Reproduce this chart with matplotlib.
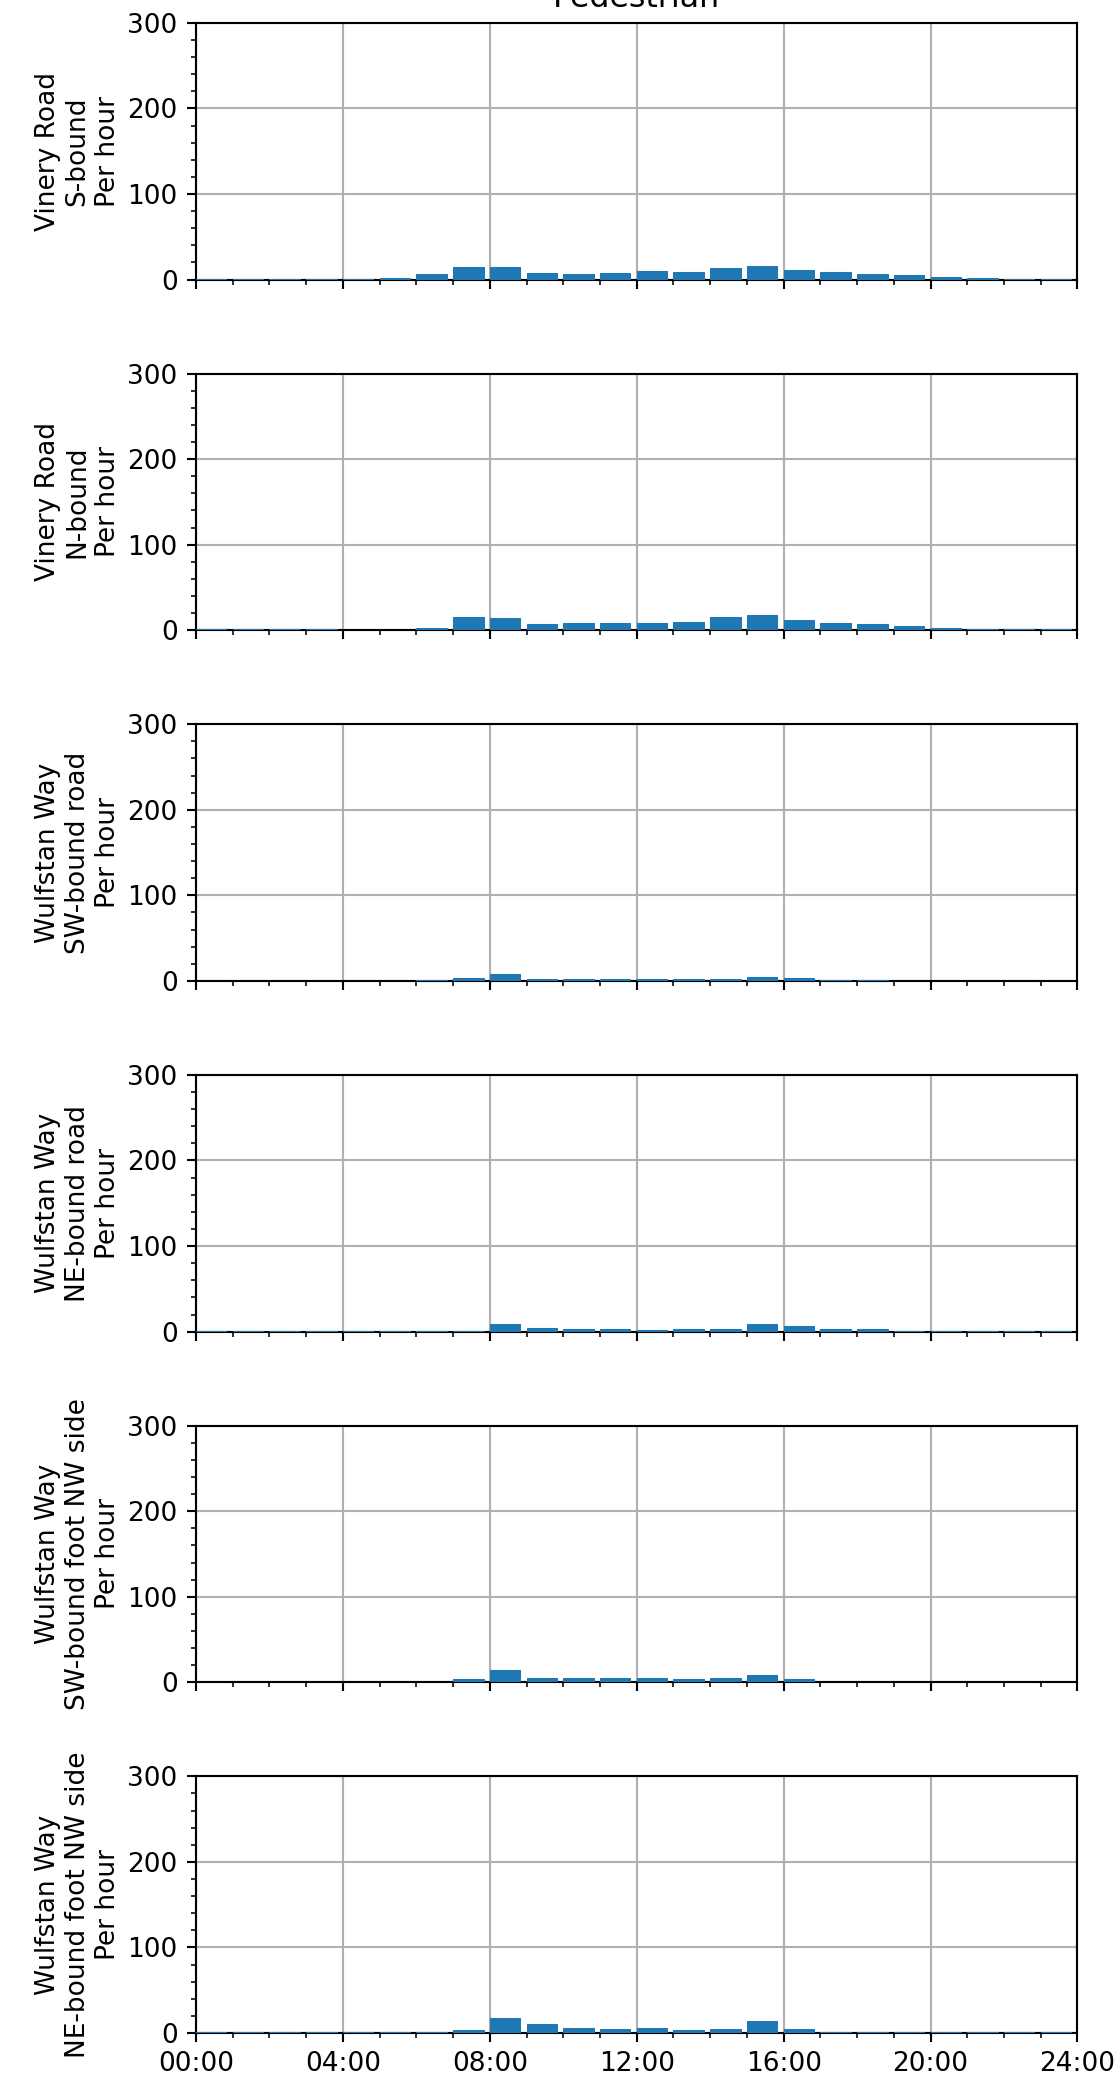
import numpy as np
import matplotlib.pyplot as plt
from matplotlib.ticker import MultipleLocator, FixedLocator


hours = np.arange(24)

labels = [
    "Vinery Road\nS-bound\nPer hour",
    "Vinery Road\nN-bound\nPer hour",
    "Wulfstan Way\nSW-bound road\nPer hour",
    "Wulfstan Way\nNE-bound road\nPer hour",
    "Wulfstan Way\nSW-bound foot NW side\nPer hour",
    "Wulfstan Way\nNE-bound foot NW side\nPer hour",
]

vinery_s = [1, 1, 1, 1, 1, 2, 7, 15, 15, 8, 7, 8, 10.5, 9, 13.5, 16, 11.5, 9, 6, 5, 3.5, 2, 1, 1]
vinery_n = [1, 1, 1, 1, 0.5, 0.5, 3, 16, 14, 7, 8, 8, 9, 10, 16, 18, 12.5, 8, 7, 5.5, 3, 2, 1, 1]
wulf_sw_road = [0.3, 0.3, 0.3, 0.3, 0.3, 0.3, 1, 3.5, 8.5, 2.5, 2.5, 2.5, 2.5, 2.5, 2.5, 5, 3.5, 1, 1, 0.5, 0.3, 0.3, 0.3, 0.3]
wulf_ne_road = [0.3, 0.3, 0.3, 0.3, 0.3, 0.3, 0.3, 1, 9, 4, 2.5, 2.5, 1.5, 2.5, 2.5, 9, 6.5, 2.5, 2.5, 1, 0.3, 0.3, 0.3, 0.3]
wulf_sw_foot = [0.3, 0.3, 0.3, 0.3, 0.3, 0.3, 0.3, 3.5, 14, 4.5, 4.5, 4.5, 4.5, 3.5, 4.5, 9, 3.5, 0.5, 0.3, 0.3, 0.3, 0.3, 0.3, 0.3]
wulf_ne_foot = [1, 1, 1, 1, 1, 1, 1, 3, 18, 10, 6, 5, 6, 3.5, 5, 14.5, 5, 1, 1, 1, 1, 1, 1, 1]

series = [vinery_s, vinery_n, wulf_sw_road, wulf_ne_road, wulf_sw_foot, wulf_ne_foot]

x_ticks = [0, 4, 8, 12, 16, 20, 24]
x_ticklabels = ["00:00", "04:00", "08:00", "12:00", "16:00", "20:00", "24:00"]

DPI = 190


def plot_panel(ax, values, ylabel):
    """Hourly bar chart for one counter"""
    # bars sit on top of the bottom spine so the near-zero hours still show
    ax.bar(hours, values, width=0.83, align="edge", color="#1f77b4",
           edgecolor="#1f77b4", linewidth=0.4, zorder=3)
    ax.set_xlim(0, 24)
    ax.set_ylim(0, 300)
    ax.set_yticks([0, 100, 200, 300])
    ax.yaxis.set_minor_locator(MultipleLocator(20))
    ax.xaxis.set_major_locator(FixedLocator(x_ticks))
    ax.xaxis.set_minor_locator(MultipleLocator(1))
    ax.grid(True, which="major", color="#b0b0b0", zorder=0)
    ax.set_axisbelow(True)
    ax.set_ylabel(ylabel, labelpad=2.5)


if __name__ == "__main__":
    fig, axes = plt.subplots(6, 1, sharex=True, figsize=(1120 / DPI, 2080 / DPI), dpi=DPI)
    fig.subplots_adjust(left=0.175, right=0.962, top=0.989, bottom=0.0226, hspace=0.366)

    for ax, values, ylabel in zip(axes, series, labels):
        plot_panel(ax, values, ylabel)

    axes[0].set_title("Pedestrian")
    axes[-1].set_xticklabels(x_ticklabels)

    fig.savefig("out.png", dpi=DPI)
